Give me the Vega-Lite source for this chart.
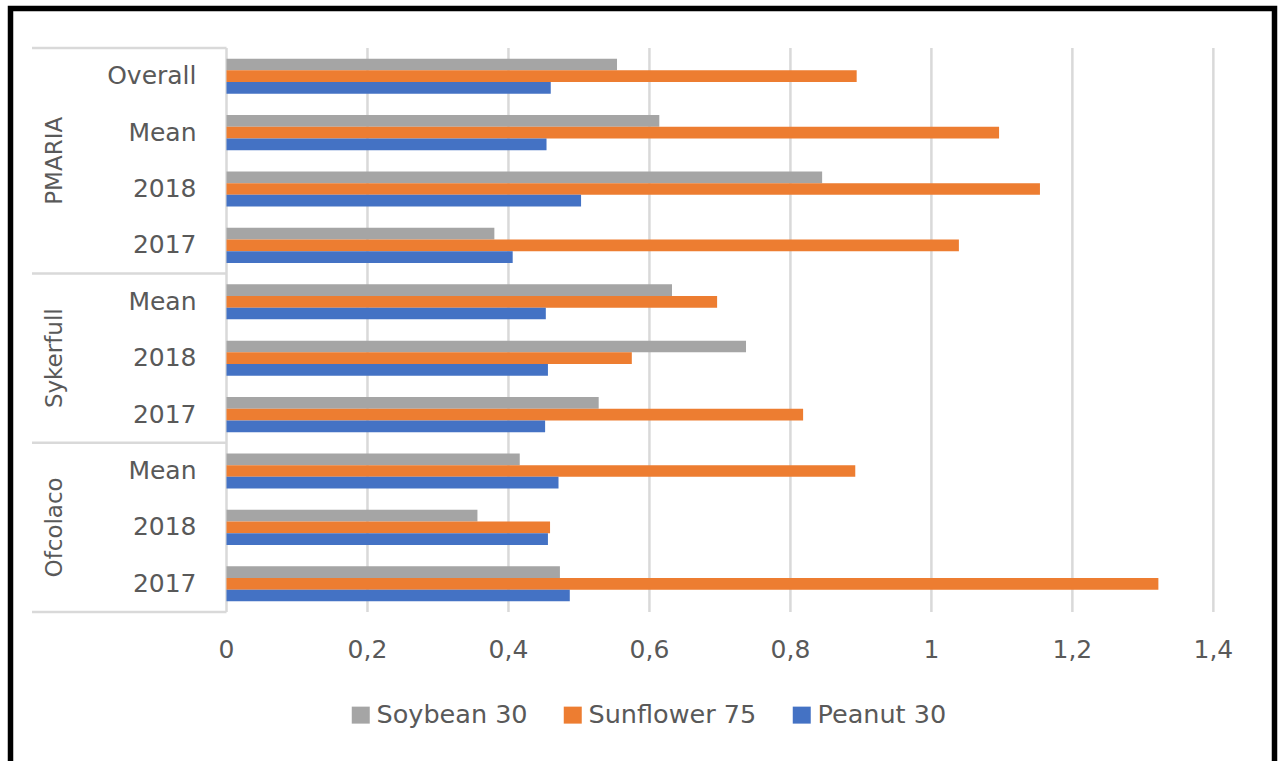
{
  "$schema": "https://vega.github.io/schema/vega-lite/v6.json",
  "width": 1264,
  "height": 760,
  "autosize": {"type": "none"},
  "padding": {"left": 10.5, "top": 8.5, "right": 5.5, "bottom": -7.5},
  "background": "white",
  "config": {
    "view": {"stroke": "#000000", "strokeWidth": 5.5},
    "font": "DejaVu Sans",
    "locale": {
      "number": {"decimal": ",", "thousands": ".", "grouping": [3], "currency": ["", " €"]}
    }
  },
  "datasets": {
    "bars": [
      {"site": "PMARIA", "period": "Overall", "key": "PMARIA|Overall", "crop": "Soybean 30", "value": 0.554},
      {"site": "PMARIA", "period": "Overall", "key": "PMARIA|Overall", "crop": "Sunflower 75", "value": 0.894},
      {"site": "PMARIA", "period": "Overall", "key": "PMARIA|Overall", "crop": "Peanut 30", "value": 0.460},
      {"site": "PMARIA", "period": "Mean", "key": "PMARIA|Mean", "crop": "Soybean 30", "value": 0.614},
      {"site": "PMARIA", "period": "Mean", "key": "PMARIA|Mean", "crop": "Sunflower 75", "value": 1.096},
      {"site": "PMARIA", "period": "Mean", "key": "PMARIA|Mean", "crop": "Peanut 30", "value": 0.454},
      {"site": "PMARIA", "period": "2018", "key": "PMARIA|2018", "crop": "Soybean 30", "value": 0.845},
      {"site": "PMARIA", "period": "2018", "key": "PMARIA|2018", "crop": "Sunflower 75", "value": 1.154},
      {"site": "PMARIA", "period": "2018", "key": "PMARIA|2018", "crop": "Peanut 30", "value": 0.503},
      {"site": "PMARIA", "period": "2017", "key": "PMARIA|2017", "crop": "Soybean 30", "value": 0.380},
      {"site": "PMARIA", "period": "2017", "key": "PMARIA|2017", "crop": "Sunflower 75", "value": 1.039},
      {"site": "PMARIA", "period": "2017", "key": "PMARIA|2017", "crop": "Peanut 30", "value": 0.406},
      {"site": "Sykerfull", "period": "Mean", "key": "Sykerfull|Mean", "crop": "Soybean 30", "value": 0.632},
      {"site": "Sykerfull", "period": "Mean", "key": "Sykerfull|Mean", "crop": "Sunflower 75", "value": 0.696},
      {"site": "Sykerfull", "period": "Mean", "key": "Sykerfull|Mean", "crop": "Peanut 30", "value": 0.453},
      {"site": "Sykerfull", "period": "2018", "key": "Sykerfull|2018", "crop": "Soybean 30", "value": 0.737},
      {"site": "Sykerfull", "period": "2018", "key": "Sykerfull|2018", "crop": "Sunflower 75", "value": 0.575},
      {"site": "Sykerfull", "period": "2018", "key": "Sykerfull|2018", "crop": "Peanut 30", "value": 0.456},
      {"site": "Sykerfull", "period": "2017", "key": "Sykerfull|2017", "crop": "Soybean 30", "value": 0.528},
      {"site": "Sykerfull", "period": "2017", "key": "Sykerfull|2017", "crop": "Sunflower 75", "value": 0.818},
      {"site": "Sykerfull", "period": "2017", "key": "Sykerfull|2017", "crop": "Peanut 30", "value": 0.452},
      {"site": "Ofcolaco", "period": "Mean", "key": "Ofcolaco|Mean", "crop": "Soybean 30", "value": 0.416},
      {"site": "Ofcolaco", "period": "Mean", "key": "Ofcolaco|Mean", "crop": "Sunflower 75", "value": 0.892},
      {"site": "Ofcolaco", "period": "Mean", "key": "Ofcolaco|Mean", "crop": "Peanut 30", "value": 0.471},
      {"site": "Ofcolaco", "period": "2018", "key": "Ofcolaco|2018", "crop": "Soybean 30", "value": 0.356},
      {"site": "Ofcolaco", "period": "2018", "key": "Ofcolaco|2018", "crop": "Sunflower 75", "value": 0.459},
      {"site": "Ofcolaco", "period": "2018", "key": "Ofcolaco|2018", "crop": "Peanut 30", "value": 0.456},
      {"site": "Ofcolaco", "period": "2017", "key": "Ofcolaco|2017", "crop": "Soybean 30", "value": 0.473},
      {"site": "Ofcolaco", "period": "2017", "key": "Ofcolaco|2017", "crop": "Sunflower 75", "value": 1.322},
      {"site": "Ofcolaco", "period": "2017", "key": "Ofcolaco|2017", "crop": "Peanut 30", "value": 0.487}
    ],
    "ticks": [
      {"tick": 0}, {"tick": 0.2}, {"tick": 0.4}, {"tick": 0.6},
      {"tick": 0.8}, {"tick": 1.0}, {"tick": 1.2}, {"tick": 1.4}
    ],
    "groups": [
      {"site": "PMARIA", "first": "PMARIA|Overall", "center": "PMARIA|Mean"},
      {"site": "Sykerfull", "first": "Sykerfull|Mean", "center": "Sykerfull|2018"},
      {"site": "Ofcolaco", "first": "Ofcolaco|Mean", "center": "Ofcolaco|2018"}
    ]
  },
  "layer": [
    {
      "data": {"name": "ticks"},
      "mark": {"type": "rule", "color": "#D9D9D9", "strokeWidth": 2.5},
      "encoding": {
        "x": {"field": "tick", "type": "quantitative", "axis": null},
        "y": {"datum": "PMARIA|Overall", "type": "nominal", "bandPosition": 0, "axis": null},
        "y2": {"datum": "Ofcolaco|2017", "bandPosition": 1}
      }
    },
    {
      "data": {"name": "groups"},
      "mark": {"type": "rule", "color": "#D9D9D9", "strokeWidth": 2.5},
      "encoding": {
        "x": {"datum": -0.27593, "type": "quantitative", "axis": null},
        "x2": {"datum": 0},
        "y": {"field": "first", "type": "nominal", "bandPosition": 0, "axis": null}
      }
    },
    {
      "data": {"name": "groups"},
      "transform": [{"filter": "datum.site === 'Ofcolaco'"}],
      "mark": {"type": "rule", "color": "#D9D9D9", "strokeWidth": 2.5},
      "encoding": {
        "x": {"datum": -0.27593, "type": "quantitative", "axis": null},
        "x2": {"datum": 0},
        "y": {"datum": "Ofcolaco|2017", "type": "nominal", "bandPosition": 1, "axis": null}
      }
    },
    {
      "data": {"name": "bars"},
      "mark": {"type": "bar"},
      "encoding": {
        "x": {
          "field": "value",
          "type": "quantitative",
          "scale": {"domain": [-0.30643, 1.48674], "nice": false, "zero": false},
          "axis": null
        },
        "y": {
          "field": "key",
          "type": "nominal",
          "scale": {
            "domain": ["PMARIA|Overall", "PMARIA|Mean", "PMARIA|2018", "PMARIA|2017",
                       "Sykerfull|Mean", "Sykerfull|2018", "Sykerfull|2017",
                       "Ofcolaco|Mean", "Ofcolaco|2018", "Ofcolaco|2017"],
            "range": [39.5, 603.5],
            "paddingInner": 0,
            "paddingOuter": 0
          },
          "axis": null
        },
        "yOffset": {
          "field": "crop",
          "type": "nominal",
          "scale": {"domain": ["Soybean 30", "Sunflower 75", "Peanut 30"], "paddingInner": 0, "paddingOuter": 0.91}
        },
        "color": {
          "field": "crop",
          "type": "nominal",
          "scale": {"domain": ["Soybean 30", "Sunflower 75", "Peanut 30"], "range": ["#A5A5A5", "#ED7D31", "#4472C4"]},
          "legend": {
            "orient": "none",
            "legendX": 337.5,
            "legendY": 693.5,
            "direction": "horizontal",
            "title": null,
            "padding": 0,
            "symbolType": "M-1,-0.944L1,-0.944L1,0.944L-1,0.944Z",
            "symbolSize": 324,
            "symbolStrokeWidth": 0,
            "labelFont": "DejaVu Sans",
            "labelFontSize": 25.5,
            "labelColor": "#595959",
            "labelLimit": 400,
            "labelOffset": 3,
            "columnPadding": 32
          }
        }
      }
    },
    {
      "data": {"name": "bars"},
      "transform": [{"filter": "datum.crop === 'Soybean 30'"}],
      "mark": {"type": "text", "align": "right", "baseline": "middle", "fontSize": 25, "color": "#595959", "font": "DejaVu Sans"},
      "encoding": {
        "x": {"datum": -0.04256, "type": "quantitative", "axis": null},
        "y": {"field": "key", "type": "nominal", "axis": null},
        "text": {"field": "period"}
      }
    },
    {
      "data": {"name": "ticks"},
      "mark": {"type": "text", "align": "center", "baseline": "middle", "fontSize": 25, "color": "#595959", "font": "DejaVu Sans", "dy": 38},
      "encoding": {
        "x": {"field": "tick", "type": "quantitative", "axis": null},
        "y": {"datum": "Ofcolaco|2017", "type": "nominal", "bandPosition": 1, "axis": null},
        "text": {"field": "tick", "type": "quantitative", "format": ".1~f"}
      }
    },
    {
      "data": {"name": "groups"},
      "transform": [{"filter": "datum.site === 'PMARIA'"}],
      "mark": {"type": "text", "angle": 270, "align": "center", "baseline": "middle", "fontSize": 23, "color": "#595959", "font": "DejaVu Sans"},
      "encoding": {
        "x": {"datum": -0.2433, "type": "quantitative", "axis": null},
        "y": {"field": "center", "type": "nominal", "bandPosition": 1, "axis": null},
        "text": {"field": "site"}
      }
    },
    {
      "data": {"name": "groups"},
      "transform": [{"filter": "datum.site !== 'PMARIA'"}],
      "mark": {"type": "text", "angle": 270, "align": "center", "baseline": "middle", "fontSize": 23, "color": "#595959", "font": "DejaVu Sans"},
      "encoding": {
        "x": {"datum": -0.2433, "type": "quantitative", "axis": null},
        "y": {"field": "center", "type": "nominal", "bandPosition": 0.5, "axis": null},
        "text": {"field": "site"}
      }
    }
  ]
}
